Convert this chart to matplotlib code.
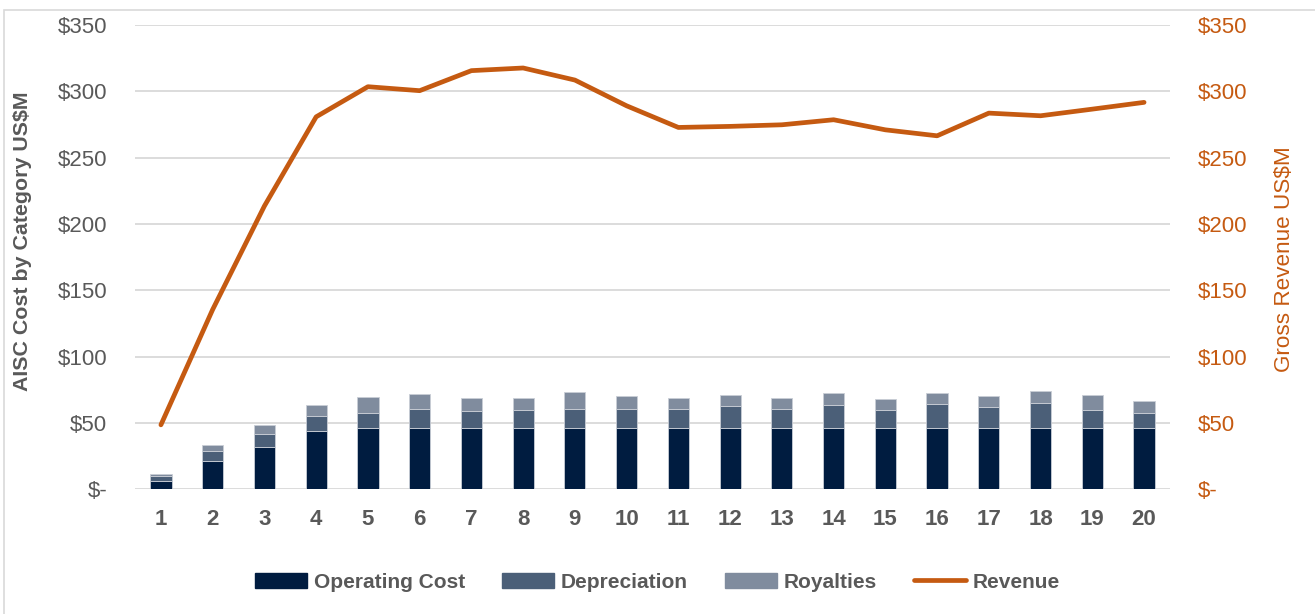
import numpy as np
import matplotlib.pyplot as plt
from matplotlib.patches import Rectangle
from matplotlib.lines import Line2D
from matplotlib.ticker import FuncFormatter

# Data (US$M)
years = list(range(1, 21))
operating = [6.4, 21.5, 32.3, 43.7, 46.2, 46.2, 46.2, 46.2, 46.2, 46.2,
             46.2, 46.2, 46.2, 46.2, 46.2, 46.2, 46.2, 46.2, 46.2, 46.2]
depreciation = [3.8, 7.6, 9.8, 11.3, 11.8, 14.4, 13.1, 13.6, 14.5, 14.3,
                14.5, 17.0, 14.5, 17.8, 13.8, 18.3, 16.0, 19.0, 13.8, 11.5]
royalties = [1.5, 4.5, 6.6, 8.8, 11.6, 11.5, 9.6, 9.5, 12.8, 10.0,
             8.5, 8.1, 8.3, 8.8, 8.2, 8.0, 8.5, 8.8, 11.0, 8.8]
revenue = [48.7, 135.6, 213.6, 280.8, 303.5, 300.5, 315.6, 317.6, 308.5, 289.1,
           272.8, 273.6, 274.8, 278.6, 271.0, 266.5, 283.6, 281.6, 286.6, 291.7]

c_op = '#001c40'
c_dep = '#4b5f78'
c_roy = '#808c9e'
c_rev = '#c55a11'
c_txt = '#595959'
c_grid = '#d9d9d9'

plt.rcParams['font.family'] = ['Liberation Sans', 'DejaVu Sans']

fig = plt.figure(figsize=(13.15, 6.14), dpi=100)
ax = fig.add_axes([0.1027, 0.2028, 0.7870, 0.7565])
ax2 = ax.twinx()

x = np.arange(len(years))
w = 0.41
op = np.array(operating)
dep = np.array(depreciation)
roy = np.array(royalties)
ax.bar(x, op, w, color=c_op, edgecolor='#c9ced6', linewidth=0.6, zorder=3)
ax.bar(x, dep, w, bottom=op, color=c_dep, edgecolor='#c9ced6', linewidth=0.6, zorder=3)
ax.bar(x, roy, w, bottom=op + dep, color=c_roy, edgecolor='#c9ced6', linewidth=0.6, zorder=3)

ax2.plot(x, revenue, color=c_rev, linewidth=3.4, solid_capstyle='round',
         solid_joinstyle='round', zorder=4)

def money(v, pos):
    return '$-' if v == 0 else '${:.0f}'.format(v)

for a in (ax, ax2):
    a.set_ylim(0, 350)
    a.set_yticks(np.arange(0, 351, 50))
    a.yaxis.set_major_formatter(FuncFormatter(money))
    a.set_xlim(-0.5, len(years) - 0.5)
    for s in a.spines.values():
        s.set_visible(False)

ax.grid(axis='y', color=c_grid, linewidth=1.3, zorder=0)
ax.set_axisbelow(True)
ax.set_xticks(x)
ax.set_xticklabels([str(y) for y in years], fontsize=16, fontweight='bold', color=c_txt)
ax.tick_params(axis='x', length=0, pad=14)
ax.tick_params(axis='y', length=0, pad=20, labelsize=16, labelcolor=c_txt)
ax2.tick_params(axis='y', length=0, pad=20, labelsize=16, labelcolor=c_rev)

ax.set_ylabel('AISC Cost by Category US$M', fontsize=15.4, fontweight='bold', color=c_txt)
ax.yaxis.set_label_coords(-0.0995, 0.534)
ax2.set_ylabel('Gross Revenue US$M', fontsize=16.2, color=c_rev, rotation=90)
ax2.yaxis.set_label_coords(1.1005, 0.497)

handles = [Rectangle((0, 0), 1, 1, color=c_op),
           Rectangle((0, 0), 1, 1, color=c_dep),
           Rectangle((0, 0), 1, 1, color=c_roy),
           Line2D([], [], color=c_rev, linewidth=3.4, solid_capstyle='round')]
labels = ['Operating Cost', 'Depreciation', 'Royalties', 'Revenue']
leg = fig.legend(handles, labels, loc='center', bbox_to_anchor=(0.5, 0.052), ncol=4,
                 frameon=False, handlelength=2.5, handleheight=0.75, handletextpad=0.3,
                 columnspacing=1.8,
                 prop={'weight': 'bold', 'size': 15})
for t in leg.get_texts():
    t.set_color(c_txt)

# light chart border
fig.add_artist(Rectangle((4 / 1315, -0.01), 1.02, 1 - 10 / 614 + 0.01,
                         transform=fig.transFigure, fill=False,
                         edgecolor=c_grid, linewidth=1.2))

fig.savefig('out.png', dpi=100)
